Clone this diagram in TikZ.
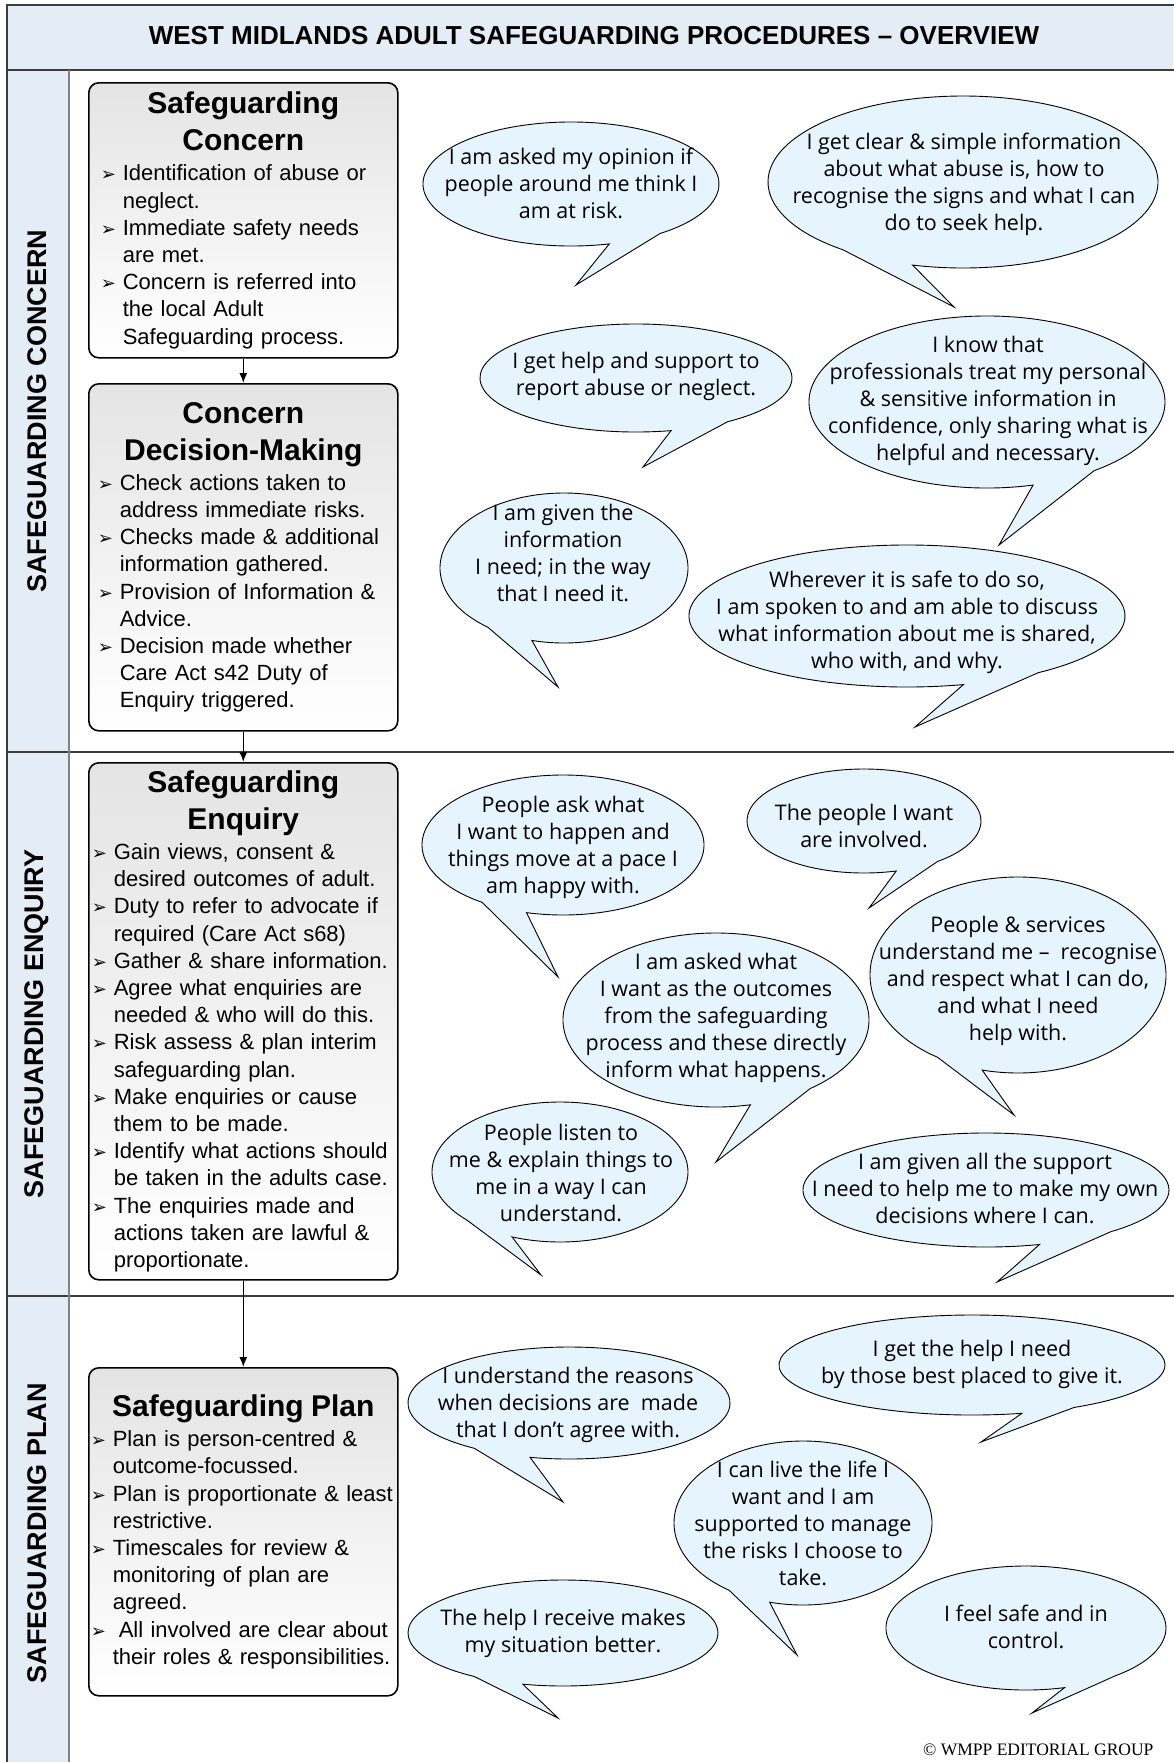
\documentclass[tikz,border=0pt]{standalone}
\usepackage{fontspec}
\setmainfont{Liberation Sans}
\newfontfamily\bubblefont{Open Sans}
\newfontfamily\symbolfont{DejaVu Sans}
\newfontfamily\copyfont{Liberation Serif}
\usetikzlibrary{arrows.meta}
\definecolor{band-blue}{RGB}{228, 236, 246}
\definecolor{bubble-blue}{RGB}{230, 244, 253}
\definecolor{box-grey}{RGB}{228, 228, 228}
\definecolor{frame-grey}{RGB}{60, 60, 60}
\newcommand{\bul}{\par\hangindent=22pt\hangafter=1\noindent\makebox[22pt][l]{\symbolfont\fontsize{18}{18}\selectfont ➢}}
\newcommand{\boxhead}[1]{{\centering\bfseries\fontsize{30}{37}\selectfont #1\par}\vspace{3pt}\raggedright\let\\\newline}

\begin{document}
\begin{tikzpicture}[x=1pt, y=-1pt,
    stagebox/.style={draw=black, line width=1.6pt, rounded corners=10pt, top color=box-grey, bottom color=white,
      anchor=north west, minimum width=309pt, inner ysep=0pt, font=\fontsize{22}{27.2}\selectfont},
    saying/.style={align=center, inner sep=0pt, font=\bubblefont\fontsize{21.5}{27}\selectfont},
    bubble/.style={fill=bubble-blue, draw=black, line width=0.9pt},
    lane/.style={rotate=90, font=\bfseries\fontsize{27}{27}\selectfont},
    frame/.style={draw=frame-grey, line width=1.5pt},
    flow/.style={-{Latex[length=10pt, width=8pt]}, line width=1.4pt}]
\useasboundingbox (0,0) rectangle (1173,1762);

% bands and lanes
\fill[band-blue] (7,5) rectangle (1173,70);
\fill[band-blue] (7,70) rectangle (69,1770);
\draw[frame] (1180,5) -- (7,5) -- (7,1770);
\draw[frame] (7,70) -- (1180,70);
\draw[frame] (7,752) -- (1180,752);
\draw[frame] (7,1296) -- (1180,1296);
\draw[frame, draw=gray] (69,70) -- (69,1770);

\node[font=\bfseries\fontsize{26}{26}\selectfont] (title) at (594,36) {WEST MIDLANDS ADULT SAFEGUARDING PROCEDURES – OVERVIEW};
\node[lane] (concernlane) at (37,411) {SAFEGUARDING CONCERN};
\node[lane] (enquirylane) at (37,1024) {SAFEGUARDING ENQUIRY};
\node[lane] (planlane) at (37,1533) {SAFEGUARDING PLAN};

% process boxes
\node[stagebox, minimum height=275pt, inner xsep=12pt, text width=285pt] (concern) at (88,82) {\boxhead{Safeguarding\\Concern}
  \bul Identification of abuse or\\neglect.
  \bul Immediate safety needs\\are met.
  \bul Concern is referred into\\the local Adult\\Safeguarding process.\par};
\node[stagebox, minimum height=347pt, inner xsep=9pt, text width=291pt] (decide) at (88,383) {\boxhead{Concern\\Decision-Making}
  \bul Check actions taken to\\address immediate risks.
  \bul Checks made \& additional\\information gathered.
  \bul Provision of Information \&\\Advice.
  \bul Decision made whether\\Care Act s42 Duty of\\Enquiry triggered.\par};
\node[stagebox, minimum height=517pt, inner xsep=3pt, text width=303pt] (enquiry) at (88,762) {\boxhead{Safeguarding\\Enquiry}
  \bul Gain views, consent \&\\desired outcomes of adult.
  \bul Duty to refer to advocate if\\required (Care Act s68)
  \bul Gather \& share information.
  \bul Agree what enquiries are\\needed \& who will do this.
  \bul Risk assess \& plan interim\\safeguarding plan.
  \bul Make enquiries or cause\\them to be made.
  \bul Identify what actions should\\be taken in the adults case.
  \bul The enquiries made and\\actions taken are lawful \&\\proportionate.\par};
\node[stagebox, minimum height=328pt, inner xsep=2pt, text width=305pt] (plan) at (88,1367) {\boxhead{Safeguarding Plan}
  \bul Plan is person-centred \&\\outcome-focussed.
  \bul Plan is proportionate \& least\\restrictive.
  \bul Timescales for review \&\\monitoring of plan are\\agreed.
  \bul \hspace{6pt}All involved are clear about\\their roles \& responsibilities.\par};

\draw[flow] (concern.south) -- (decide.north);
\draw[flow] (decide.south) -- (enquiry.north);
\draw[flow] (enquiry.south) -- (plan.north);

% speech bubbles - concern
\filldraw[bubble] (571,184) ++(75:148 and 62) arc[start angle=75, end angle=413, x radius=148, y radius=62] -- (576,285) -- cycle;
\node[saying] (opinion) at (571,183) {I am asked my opinion if\\people around me think I\\am at risk.};
\filldraw[bubble] (963,182) ++(128:195 and 86) arc[start angle=128, end angle=465, x radius=195, y radius=86] -- (954,307) -- cycle;
\node[saying] (clearinfo) at (964,184) {I get clear \& simple information\\about what abuse is, how to\\recognise the signs and what I can\\do to seek help.};
\filldraw[bubble] (636,378) ++(77:156 and 54) arc[start angle=77, end angle=414, x radius=156, y radius=54] -- (643,467) -- cycle;
\node[saying] (report) at (636,376) {I get help and support to\\report abuse or neglect.};
\filldraw[bubble] (987,402) ++(75:178 and 86) arc[start angle=75, end angle=413, x radius=178, y radius=86] -- (999,545) -- cycle;
\node[saying] (confidence) at (988,401) {I know that\\professionals treat my personal\\\& sensitive information in\\confidence, only sharing what is\\helpful and necessary.};
\filldraw[bubble] (564,568) ++(128:124 and 75) arc[start angle=128, end angle=465, x radius=124, y radius=75] -- (558,687) -- cycle;
\node[saying] (needinfo) at (563,553) {I am given the\\information\\I need; in the way\\that I need it.};
\filldraw[bubble] (907,616) ++(75:218 and 71) arc[start angle=75, end angle=413, x radius=218, y radius=71] -- (915,727) -- cycle;
\node[saying] (discuss) at (907,622) {Wherever it is safe to do so,\\I am spoken to and am able to discuss\\what information about me is shared,\\who with, and why.};

% speech bubbles - enquiry
\filldraw[bubble] (563,845) ++(125:141 and 70) arc[start angle=125, end angle=465, x radius=141, y radius=70] -- (558,977) -- cycle;
\node[saying] (pace) at (563,847) {People ask what\\I want to happen and\\things move at a pace I\\am happy with.};
\filldraw[bubble] (864,821) ++(74:117 and 52) arc[start angle=74, end angle=411, x radius=117, y radius=52] -- (869,908) -- cycle;
\node[saying] (involved) at (864,826) {The people I want\\are involved.};
\filldraw[bubble] (1018,975) ++(123:148 and 98) arc[start angle=123, end angle=464, x radius=148, y radius=98] -- (1014,1115) -- cycle;
\node[saying] (respect) at (1018,981) {People \& services\\understand me –~ recognise\\and respect what I can do,\\and what I need\\help with.};
\filldraw[bubble] (716,1020) ++(77:153 and 87) arc[start angle=77, end angle=412, x radius=153, y radius=87] -- (716,1162) -- cycle;
\node[saying] (outcomes) at (716,1018) {I am asked what\\I want as the outcomes\\from the safeguarding\\process and these directly\\inform what happens.};
\filldraw[bubble] (560,1172) ++(137:128 and 70) arc[start angle=137, end angle=472, x radius=128, y radius=70] -- (541,1275) -- cycle;
\node[saying] (listen) at (561,1173) {People listen to\\me \& explain things to\\me in a way I can\\understand.};
\filldraw[bubble] (986,1190) ++(73:183 and 57) arc[start angle=73, end angle=407, x radius=183, y radius=57] -- (997,1282) -- cycle;
\node[saying] (decisions) at (985,1188) {I am given all the support\\I need to help me to make my own\\decisions where I can.};

% speech bubbles - plan
\filldraw[bubble] (972,1365) ++(75:193 and 50) arc[start angle=75, end angle=418, x radius=193, y radius=50] -- (981,1442) -- cycle;
\node[saying] (bestplaced) at (972,1364) {I get the help I need\\by those best placed to give it.};
\filldraw[bubble] (569,1403) ++(126:161 and 56) arc[start angle=126, end angle=464, x radius=161, y radius=56] -- (563,1502) -- cycle;
\node[saying] (reasons) at (568,1405) {I understand the reasons\\when decisions are~ made\\that I don’t agree with.};
\filldraw[bubble] (803,1523) ++(125:129 and 82) arc[start angle=125, end angle=465, x radius=129, y radius=82] -- (797,1655) -- cycle;
\node[saying] (livelife) at (803,1523) {I can live the life I\\want and I am\\supported to manage\\the risks I choose to\\take.};
\filldraw[bubble] (563,1633) ++(125:155 and 53) arc[start angle=125, end angle=465, x radius=155, y radius=53] -- (558,1718) -- cycle;
\node[saying] (better) at (563,1633) {The help I receive makes\\my situation better.};
\filldraw[bubble] (1026,1628) ++(74:140 and 62) arc[start angle=74, end angle=410, x radius=140, y radius=62] -- (1032,1713) -- cycle;
\node[saying] (safe) at (1026,1627) {I feel safe and in\\control.};

\node[anchor=east, font=\copyfont\fontsize{17.5}{17.5}\selectfont] (wmpp) at (1157,1750) {© WMPP EDITORIAL GROUP};
\end{tikzpicture}
\end{document}
